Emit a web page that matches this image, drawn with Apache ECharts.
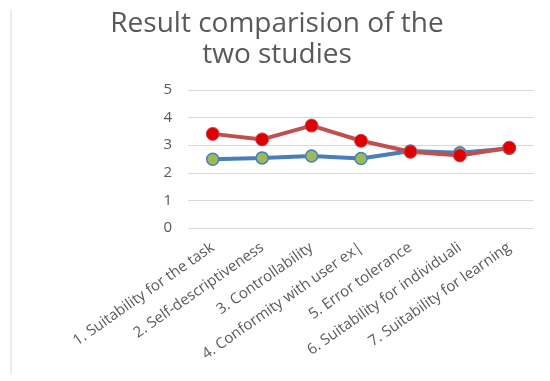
<!DOCTYPE html>
<html lang="en">
<head>
    <meta charset="UTF-8">
    <script src="https://cdn.jsdelivr.net/npm/echarts@6/dist/echarts.min.js"></script>
    <title>Result comparision</title>
    <style>
        body { margin: 0; background: #fff; }
    </style>
</head>
<body>
<div id="main" style="width: 550px;height:381px;"></div>
<script type="text/javascript">
    // data
    var categories = [
        '1. Suitability for the task',
        '2. Self-descriptiveness',
        '3. Controllability',
        '4. Conformity with user ex|',
        '5. Error tolerance',
        '6. Suitability for individuali',
        '7. Suitability for learning'
    ];
    var study1 = [2.49, 2.54, 2.61, 2.52, 2.79, 2.73, 2.88];
    var study2 = [3.41, 3.21, 3.71, 3.16, 2.76, 2.63, 2.91];
    var yTicks = [0, 1, 2, 3, 4, 5];

    var myChart = echarts.init(document.getElementById('main'));

    var option = {
        animation: false,
        title: {
            text: 'Result comparision of the\ntwo studies',
            left: 272,
            top: 4,
            textAlign: 'center',
            textStyle: {
                fontFamily: 'Open Sans',
                fontSize: 28,
                fontWeight: 'normal',
                color: '#595959',
                lineHeight: 31
            }
        },
        graphic: [{
            type: 'line',
            shape: {x1: 11, y1: 9, x2: 11, y2: 375},
            style: {stroke: '#d9d9d9', lineWidth: 1}
        }],
        grid: {
            left: 188,
            right: 16,
            top: 90,
            bottom: 153
        },
        xAxis: {
            type: 'category',
            data: categories,
            boundaryGap: true,
            axisLine: {show: false},
            axisTick: {show: false},
            axisLabel: {
                rotate: 35,
                interval: 0,
                margin: 18,
                fontFamily: 'Open Sans',
                fontSize: 15,
                color: '#595959'
            }
        },
        yAxis: {
            type: 'value',
            min: yTicks[0],
            max: yTicks[yTicks.length - 1],
            interval: 1,
            axisLine: {show: false},
            axisTick: {show: false},
            splitLine: {lineStyle: {color: '#d9d9d9', width: 1}},
            axisLabel: {
                margin: 16,
                fontFamily: 'Open Sans',
                fontSize: 15,
                color: '#595959'
            }
        },
        series: [
            {
                name: 'Study 1',
                type: 'line',
                data: study1,
                symbol: 'circle',
                symbolSize: 12,
                lineStyle: {color: '#4a7ebb', width: 4},
                itemStyle: {color: '#9bbb59', borderColor: '#4a7ebb', borderWidth: 1.5}
            },
            {
                name: 'Study 2',
                type: 'line',
                data: study2,
                symbol: 'circle',
                symbolSize: 13,
                lineStyle: {color: '#c0504d', width: 4},
                itemStyle: {color: '#e00000', borderColor: '#c0504d', borderWidth: 1}
            }
        ]
    };

    myChart.setOption(option);
</script>
</body>
</html>
